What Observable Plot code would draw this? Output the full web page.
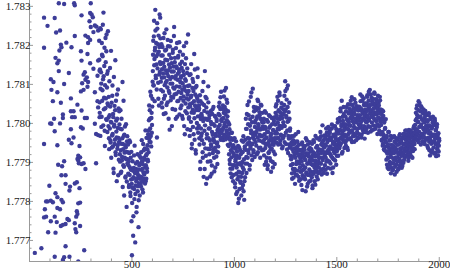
<!DOCTYPE html>
<html><head><meta charset="utf-8">
<script src="https://cdn.jsdelivr.net/npm/d3@7"></script>
<script src="https://cdn.jsdelivr.net/npm/@observablehq/plot@0.6"></script>
<style>body{margin:0;background:#fff}</style>
</head><body><div id="chart"></div>
<script>
// Early, widely scattered points (x, y read individually)
const earlyX = [143,169,218,221,299,296,303,309,254,71,123,88,293,319,327,299,130,149,221,273,286,296,312,335,180,153,156,71,146,205,286,283,296,251,127,143,136,254,335,312,342,270,192,143,280,264,273,286,104,117,169,257,332,283,107,136,202,251,264,319,332,114,153,234,254,335,202,215,208,163,163,120,101,107,149,221,270,280,319,342,202,251,260,123,325,335,215,192,205,244,71,136,238,247,234,238,241,254,264,273,325,169,140,159,97,176,156,221,231,176,198,195,244,127,136,156,81,88,104,114,163,238,247,75,136,149,81,71,231,234,228,104,133,123,185,192,163,153,176,221,247,224,228,91,127,26,58,176,267,169,163,123,195,238];
const earlyY = [1.78308,1.78306,1.78308,1.78303,1.78308,1.78283,1.78279,1.78272,1.78277,1.78271,1.78270,1.78250,1.78262,1.78251,1.78248,1.78247,1.78233,1.78238,1.78224,1.78225,1.78221,1.78214,1.78234,1.78238,1.78207,1.78202,1.78195,1.78194,1.78187,1.78195,1.78206,1.78178,1.78154,1.78185,1.78168,1.78161,1.78154,1.78161,1.78161,1.78140,1.78135,1.78131,1.78129,1.78134,1.78118,1.78125,1.78112,1.78106,1.78113,1.78106,1.78101,1.78103,1.78122,1.78094,1.78086,1.78080,1.78064,1.78082,1.78086,1.78080,1.78057,1.78057,1.78053,1.78048,1.78033,1.78041,1.78031,1.78031,1.78016,1.78023,1.78014,1.78012,1.78000,1.77999,1.78000,1.78016,1.78014,1.78014,1.77999,1.78016,1.77985,1.77990,1.77987,1.77980,1.77973,1.77970,1.77964,1.77958,1.77949,1.77942,1.77947,1.77944,1.77917,1.77913,1.77909,1.77905,1.77898,1.77896,1.77898,1.77883,1.77898,1.77903,1.77894,1.77890,1.77840,1.77867,1.77867,1.77846,1.77849,1.77845,1.77838,1.77828,1.77834,1.77821,1.77811,1.77804,1.77800,1.77800,1.77802,1.77798,1.77798,1.77795,1.77797,1.77780,1.77783,1.77780,1.77761,1.77759,1.77775,1.77768,1.77761,1.77749,1.77747,1.77761,1.77755,1.77752,1.77740,1.77737,1.77742,1.77744,1.77737,1.77729,1.77721,1.77721,1.77720,1.77668,1.77680,1.77685,1.77675,1.77657,1.77650,1.77658,1.77658,1.77646];

// Dense series, even indices, one array per block of 100
const y340 = [1.78212,1.78054,1.78138,1.77968,1.78241,1.78102,1.78017,1.78176,1.78085,1.78253,1.77995,1.78121,1.78066,1.78194,1.77942,1.78039,1.78157,1.78011,1.78228,1.78092,1.77978,1.78134,1.78046,1.78015,1.77962,1.78108,1.77987,1.78043,1.77951,1.78186,1.78002,1.77938,1.78071,1.77973,1.78024,1.77884,1.78119,1.77996,1.77947,1.78034,1.77926,1.78058,1.77979,1.77852,1.78012,1.77944,1.78087,1.77963,1.77907,1.78031];
const y440 = [1.77958,1.77902,1.78034,1.77931,1.77876,1.77985,1.77914,1.78106,1.77947,1.77893,1.77968,1.77815,1.77925,1.77992,1.77861,1.77939,1.77908,1.77786,1.77954,1.77897,1.77926,1.77871,1.77903,1.77842,1.77956,1.77887,1.77823,1.77912,1.77856,1.77749,1.77662,1.77835,1.77879,1.77712,1.77862,1.77918,1.77806,1.77874,1.77695,1.77841,1.77883,1.77772,1.77859,1.77901,1.77826,1.77868,1.77734,1.77847,1.77892,1.77815];
const y540 = [1.77864,1.77912,1.77838,1.77881,1.77957,1.77852,1.77896,1.77823,1.77874,1.77931,1.77869,1.77907,1.77846,1.77982,1.77893,1.77858,1.77921,1.77876,1.77944,1.77903,1.77962,1.77982,1.78046,1.77953,1.78012,1.78081,1.77968,1.77941,1.78027,1.77996,1.78063,1.78134,1.78212,1.78097,1.78263,1.78165,1.78187,1.78291,1.78122,1.78206,1.78151,1.77964,1.78243,1.78178,1.78104,1.78225,1.78046,1.78196,1.78132,1.78271];
const y640 = [1.78152,1.78086,1.78203,1.78117,1.78041,1.78174,1.78128,1.78219,1.78063,1.78145,1.78098,1.78187,1.78026,1.78136,1.78241,1.78109,1.78162,1.78054,1.78198,1.78121,1.78083,1.78176,1.77984,1.78143,1.78102,1.78211,1.78068,1.78154,1.78119,1.78037,1.78189,1.78092,1.78133,1.78247,1.78074,1.78168,1.78115,1.78012,1.78146,1.78095,1.78206,1.78057,1.78127,1.78173,1.78081,1.78138,1.78023,1.78184,1.78106,1.78065];
const y740 = [1.78121,1.78046,1.78158,1.78087,1.78012,1.78134,1.78069,1.78198,1.78095,1.77972,1.78113,1.78051,1.78167,1.78082,1.78026,1.78141,1.78074,1.78228,1.78061,1.78012,1.78097,1.77968,1.78043,1.78126,1.78004,1.78071,1.77936,1.78052,1.78114,1.77991,1.78083,1.78027,1.78178,1.77958,1.78046,1.78092,1.77923,1.78034,1.78069,1.77987,1.78141,1.78018,1.78056,1.77994,1.78038,1.77946,1.78072,1.77902,1.78011,1.77968];
const y840 = [1.78021,1.77957,1.78083,1.77912,1.78006,1.77863,1.78047,1.77981,1.78134,1.77936,1.78012,1.77845,1.78064,1.77972,1.78028,1.77902,1.78095,1.77962,1.78013,1.77921,1.77987,1.77864,1.78031,1.77946,1.77998,1.77892,1.78024,1.77971,1.77933,1.78042,1.77956,1.77877,1.77994,1.77938,1.78017,1.77968,1.77915,1.78006,1.77951,1.77983,1.77926,1.77991,1.78043,1.77968,1.78021,1.77982,1.78067,1.77963,1.78009,1.77975];
const y940 = [1.78012,1.77964,1.78046,1.77988,1.78027,1.77971,1.78084,1.78002,1.77959,1.78035,1.77992,1.78061,1.77976,1.78018,1.77945,1.78003,1.77968,1.77921,1.77985,1.77896,1.77947,1.77872,1.77962,1.77913,1.77976,1.77884,1.77938,1.77852,1.77923,1.77961,1.77893,1.77937,1.77836,1.77908,1.77954,1.77871,1.77917,1.77825,1.77896,1.77942,1.77863,1.77807,1.77912,1.77874,1.77932,1.77848,1.77894,1.77815,1.77956,1.77873];
const y1040 = [1.77926,1.77842,1.77967,1.77881,1.77804,1.77935,1.77862,1.77958,1.78012,1.77914,1.77986,1.77897,1.78047,1.77963,1.77931,1.78021,1.77952,1.77882,1.77994,1.77942,1.78068,1.77975,1.77918,1.78003,1.77947,1.78089,1.77969,1.77926,1.78031,1.77958,1.77991,1.78006,1.77952,1.78041,1.77978,1.77921,1.78018,1.77964,1.78057,1.77993,1.77937,1.78029,1.77971,1.77912,1.78012,1.77986,1.78046,1.77954,1.78003,1.77968];
const y1140 = [1.77986,1.77932,1.78012,1.77958,1.77894,1.77991,1.77947,1.78027,1.77963,1.77912,1.77978,1.77883,1.78004,1.77951,1.77926,1.77989,1.77942,1.78018,1.77968,1.77904,1.77973,1.77936,1.77998,1.77957,1.77887,1.77982,1.77945,1.78015,1.77962,1.77921,1.77997,1.78043,1.77962,1.78021,1.77974,1.78068,1.78002,1.77946,1.78034,1.77985,1.78079,1.78011,1.77956,1.78027,1.77993,1.78052,1.77968,1.78014,1.77941,1.78036];
const y1240 = [1.78024,1.77968,1.78071,1.77993,1.78108,1.78036,1.77947,1.78015,1.78089,1.77982,1.78042,1.77924,1.78006,1.77961,1.78053,1.77938,1.77987,1.77942,1.77893,1.77967,1.77911,1.77858,1.77946,1.77883,1.77927,1.77968,1.77874,1.77936,1.77845,1.77912,1.77953,1.77896,1.77928,1.77867,1.77941,1.77902,1.77978,1.77918,1.77853,1.77931,1.77887,1.77904,1.77857,1.77932,1.77878,1.77946,1.77829,1.77893,1.77915,1.77862];
const y1340 = [1.77911,1.77863,1.77942,1.77887,1.77826,1.77918,1.77874,1.77956,1.77897,1.77845,1.77923,1.77868,1.77934,1.77882,1.77952,1.77907,1.77853,1.77896,1.77934,1.77862,1.77918,1.77841,1.77905,1.77957,1.77876,1.77923,1.77852,1.77896,1.77968,1.77883,1.77917,1.77864,1.77942,1.77891,1.77928,1.77873,1.77934,1.77886,1.77962,1.77913,1.77978,1.77897,1.77946,1.77869,1.77931,1.77995,1.77912,1.77957,1.77884,1.77938];
const y1440 = [1.77946,1.77893,1.77968,1.77912,1.77987,1.77924,1.77871,1.77952,1.77905,1.77991,1.77934,1.77958,1.77902,1.77976,1.77921,1.77884,1.77963,1.77935,1.77997,1.77912,1.77954,1.77887,1.77971,1.77928,1.77992,1.77946,1.77905,1.77968,1.77931,1.77985,1.77917,1.77956,1.78002,1.77938,1.77974,1.77982,1.77936,1.78014,1.77961,1.78031,1.77948,1.77993,1.78058,1.77972,1.77927,1.78006,1.77965,1.78024,1.77953,1.77988];
const y1540 = [1.77971,1.78018,1.77943,1.77996,1.78042,1.77958,1.78007,1.77932,1.77984,1.78026,1.77996,1.78037,1.77962,1.78014,1.78058,1.77981,1.78023,1.77952,1.78006,1.78047,1.77974,1.78029,1.77991,1.78062,1.77968,1.78012,1.78035,1.77957,1.78003,1.78044,1.77986,1.78021,1.77963,1.78008,1.78016,1.77972,1.78041,1.77993,1.78057,1.78004,1.77964,1.78032,1.78069,1.77986,1.78025,1.77978,1.78047,1.78009,1.77961,1.78036];
const y1640 = [1.78026,1.77984,1.78051,1.78003,1.78068,1.78014,1.77976,1.78039,1.78081,1.78008,1.78047,1.77991,1.78032,1.78074,1.78017,1.77982,1.78056,1.78021,1.78063,1.77995,1.78038,1.78012,1.78076,1.78024,1.77986,1.78049,1.78006,1.78061,1.78028,1.77973,1.78042,1.78015,1.78053,1.77992,1.78031,1.78068,1.78004,1.78036,1.77996,1.78024,1.77958,1.78012,1.77943,1.78031,1.77971,1.77934,1.78005,1.77962,1.77988,1.77941];
const y1740 = [1.77952,1.77907,1.77968,1.77923,1.77886,1.77946,1.77912,1.77978,1.77931,1.77894,1.77957,1.77915,1.77872,1.77936,1.77898,1.77963,1.77924,1.77881,1.77942,1.77908,1.77967,1.77926,1.77889,1.77951,1.77913,1.77934,1.77876,1.77945,1.77902,1.77961,1.77922,1.77884,1.77947,1.77909,1.77972,1.77928,1.77895,1.77956,1.77917,1.77938,1.77891,1.77964,1.77925,1.77973,1.77906,1.77948,1.77912,1.77981,1.77934,1.77957];
const y1840 = [1.77946,1.77918,1.77972,1.77935,1.77961,1.77912,1.77983,1.77944,1.77926,1.77968,1.77937,1.77954,1.77915,1.77976,1.77942,1.77963,1.77929,1.77988,1.77951,1.77972,1.77934,1.77996,1.77986,1.78027,1.77958,1.78012,1.78046,1.77974,1.78003,1.77952,1.78034,1.77991,1.78052,1.77968,1.78018,1.77946,1.77997,1.78041,1.77972,1.78009,1.77963,1.78026,1.77984,1.77951,1.78013,1.77976,1.78032,1.77958,1.77994,1.78007];
const y1940 = [1.77986,1.77942,1.78008,1.77963,1.78021,1.77974,1.77931,1.77995,1.77958,1.78014,1.77967,1.77926,1.77989,1.77952,1.78003,1.77971,1.77938,1.77996,1.77954,1.78012,1.77962,1.77925,1.77984,1.77946,1.77991,1.77937,1.77968,1.77918,1.77975,1.77943,1.77956];

// Dense series, odd indices
const z341 = [1.78163,1.78027,1.78244,1.78089,1.78131,1.77991,1.78206,1.78058,1.78172,1.78113,1.78284,1.78036,1.78147,1.77981,1.78098,1.78219,1.78064,1.78185,1.78009,1.78127,1.78051,1.78236,1.77993,1.78068,1.77934,1.78021,1.78142,1.77956,1.78004,1.77912,1.78053,1.77969,1.78097,1.77941,1.78016,1.77873,1.77992,1.78045,1.77958,1.78162,1.77919,1.78007,1.77964,1.78074,1.77935,1.77988,1.77867,1.78038,1.77952,1.77997];
const z441 = [1.77921,1.77986,1.77873,1.77948,1.78012,1.77905,1.77962,1.77837,1.77934,1.78058,1.77889,1.77971,1.77912,1.77944,1.77864,1.77998,1.77927,1.77851,1.77967,1.77908,1.77946,1.77893,1.77837,1.77924,1.77868,1.77952,1.77814,1.77881,1.77927,1.77845,1.77796,1.77903,1.77858,1.77762,1.77886,1.77832,1.77943,1.77873,1.77819,1.77897,1.77852,1.77786,1.77874,1.77921,1.77839,1.77881,1.77803,1.77862,1.77917,1.77858];
const z541 = [1.77897,1.77845,1.77926,1.77862,1.77903,1.77831,1.77884,1.77947,1.77858,1.77912,1.77873,1.77936,1.77889,1.77852,1.77918,1.77963,1.77885,1.77934,1.77907,1.77972,1.77926,1.78008,1.77962,1.78034,1.77987,1.77952,1.78071,1.78014,1.77976,1.78043,1.78107,1.78176,1.78098,1.78223,1.78149,1.78057,1.78194,1.78238,1.78116,1.78172,1.78087,1.78257,1.78141,1.78203,1.78063,1.78184,1.78125,1.78279,1.78157,1.78218];
const z641 = [1.78107,1.78174,1.78053,1.78139,1.78196,1.78082,1.78155,1.78024,1.78118,1.78231,1.78071,1.78163,1.78104,1.78189,1.78047,1.78128,1.78092,1.78214,1.78136,1.78012,1.78151,1.78078,1.78197,1.78114,1.78059,1.78167,1.78133,1.77993,1.78102,1.78181,1.78066,1.78146,1.78224,1.78089,1.78157,1.78035,1.78121,1.78193,1.78076,1.78142,1.78017,1.78112,1.78169,1.78058,1.78131,1.78208,1.78094,1.78152,1.78039,1.78117];
const z741 = [1.78078,1.78142,1.78019,1.78103,1.78176,1.78058,1.78124,1.77993,1.78086,1.78152,1.78031,1.78109,1.78207,1.78064,1.78129,1.77985,1.78096,1.78041,1.78083,1.78016,1.78124,1.78049,1.77983,1.78067,1.78152,1.78028,1.77947,1.78091,1.78035,1.78106,1.77972,1.78057,1.78013,1.78138,1.78074,1.77931,1.78042,1.78096,1.78001,1.78063,1.78119,1.77976,1.78034,1.78046,1.77962,1.78018,1.77883,1.78057,1.77987,1.78024];
const z841 = [1.77974,1.78051,1.77926,1.78013,1.78106,1.77948,1.78032,1.77883,1.77995,1.78068,1.77917,1.78041,1.77962,1.77859,1.78009,1.77935,1.78054,1.77987,1.77934,1.78021,1.77956,1.77903,1.78004,1.77942,1.77871,1.77978,1.78036,1.77924,1.77961,1.77998,1.77912,1.77952,1.78019,1.77887,1.77973,1.77929,1.78011,1.77948,1.77896,1.77982,1.77941,1.78024,1.77977,1.78053,1.77996,1.78037,1.77958,1.78081,1.78006,1.77984];
const z941 = [1.77983,1.78037,1.77957,1.78014,1.78069,1.77996,1.78042,1.77967,1.78024,1.78091,1.77981,1.78008,1.78053,1.77962,1.78031,1.77974,1.77942,1.77997,1.77906,1.77958,1.77884,1.77931,1.77976,1.77862,1.77927,1.77958,1.77893,1.77944,1.77868,1.77917,1.77962,1.77846,1.77903,1.77935,1.77819,1.77887,1.77928,1.77857,1.77913,1.77796,1.77876,1.77939,1.77832,1.77898,1.77851,1.77921,1.77863,1.77927,1.77834,1.77901];
const z1041 = [1.77887,1.77953,1.77826,1.77908,1.77852,1.77941,1.77897,1.77932,1.77986,1.77873,1.78024,1.77947,1.77912,1.77998,1.77924,1.78056,1.77961,1.77893,1.78011,1.77937,1.77982,1.78079,1.77948,1.77906,1.78017,1.77963,1.77931,1.78042,1.77976,1.77914,1.78002,1.77971,1.78034,1.77943,1.78012,1.77987,1.78061,1.77926,1.77998,1.78039,1.77956,1.78021,1.77984,1.77938,1.78048,1.77967,1.78009,1.77931,1.78027,1.77992];
const z1141 = [1.77951,1.78003,1.77918,1.77972,1.78031,1.77937,1.77986,1.77902,1.77964,1.78009,1.77946,1.77893,1.77978,1.77924,1.78021,1.77957,1.77911,1.77993,1.77934,1.77876,1.77962,1.78014,1.77947,1.77901,1.77983,1.77928,1.78006,1.77953,1.77896,1.77974,1.78027,1.77978,1.78049,1.77951,1.78012,1.77986,1.78058,1.77963,1.78031,1.77994,1.78072,1.77947,1.78018,1.77971,1.78041,1.77989,1.77936,1.78024,1.77962,1.78003];
const z1241 = [1.77994,1.78047,1.77952,1.78031,1.78083,1.77976,1.78019,1.78061,1.77933,1.78004,1.78097,1.77968,1.78029,1.77946,1.78012,1.77981,1.77917,1.77963,1.77908,1.77951,1.77872,1.77934,1.77896,1.77957,1.77861,1.77917,1.77948,1.77883,1.77924,1.77972,1.77868,1.77937,1.77902,1.77954,1.77879,1.77921,1.77863,1.77946,1.77897,1.77932,1.77912,1.77876,1.77921,1.77842,1.77903,1.77951,1.77867,1.77924,1.77881,1.77938];
const z1341 = [1.77884,1.77932,1.77857,1.77906,1.77962,1.77871,1.77923,1.77838,1.77897,1.77946,1.77868,1.77915,1.77851,1.77903,1.77937,1.77876,1.77928,1.77867,1.77912,1.77948,1.77834,1.77893,1.77926,1.77871,1.77952,1.77887,1.77916,1.77843,1.77905,1.77938,1.77876,1.77962,1.77898,1.77857,1.77921,1.77902,1.77911,1.77958,1.77876,1.77932,1.77897,1.77967,1.77924,1.77882,1.77951,1.77906,1.77943,1.77873,1.77926,1.77969];
const z1441 = [1.77917,1.77962,1.77881,1.77943,1.77902,1.77976,1.77928,1.77957,1.77886,1.77932,1.77968,1.77924,1.77982,1.77941,1.77897,1.77958,1.77916,1.77987,1.77936,1.77873,1.77948,1.77967,1.77908,1.77952,1.77924,1.77993,1.77938,1.77961,1.77894,1.77977,1.77929,1.77946,1.78011,1.77917,1.77959,1.77951,1.78006,1.77942,1.77983,1.78038,1.77964,1.77997,1.77923,1.77976,1.78017,1.77956,1.78042,1.77983,1.77937,1.77998];
const z1541 = [1.77994,1.77952,1.78031,1.77967,1.78011,1.77938,1.77986,1.78049,1.77973,1.78004,1.78026,1.77977,1.78048,1.77994,1.77958,1.78031,1.78067,1.77982,1.78016,1.77967,1.78039,1.78001,1.77953,1.78024,1.77988,1.78053,1.77971,1.78009,1.78042,1.77978,1.78015,1.77962,1.78033,1.77997,1.78043,1.77989,1.78021,1.78074,1.77996,1.78037,1.77971,1.78012,1.78058,1.77983,1.78029,1.78064,1.77993,1.78017,1.78051,1.77978];
const z1641 = [1.78004,1.78047,1.77987,1.78032,1.78072,1.78019,1.77993,1.78058,1.78011,1.78043,1.78086,1.78026,1.77979,1.78034,1.78065,1.78002,1.78048,1.78017,1.77984,1.78052,1.78029,1.78079,1.78009,1.78041,1.77991,1.78062,1.78023,1.78054,1.77997,1.78037,1.78071,1.78014,1.78046,1.77981,1.78026,1.78059,1.78008,1.77972,1.78013,1.77956,1.78034,1.77978,1.77947,1.78019,1.77964,1.78002,1.77931,1.77986,1.77953,1.78011];
const z1741 = [1.77928,1.77963,1.77894,1.77941,1.77912,1.77978,1.77883,1.77937,1.77956,1.77901,1.77924,1.77968,1.77887,1.77945,1.77913,1.77879,1.77932,1.77966,1.77898,1.77924,1.77953,1.77869,1.77937,1.77906,1.77962,1.77894,1.77928,1.77957,1.77913,1.77882,1.77946,1.77921,1.77968,1.77891,1.77935,1.77903,1.77954,1.77927,1.77886,1.77962,1.77918,1.77947,1.77899,1.77936,1.77971,1.77928,1.77962,1.77917,1.77944,1.77982];
const z1841 = [1.77931,1.77967,1.77924,1.77952,1.77904,1.77977,1.77939,1.77961,1.77921,1.77948,1.77982,1.77928,1.77966,1.77943,1.77912,1.77971,1.77936,1.77958,1.77993,1.77947,1.77978,1.77962,1.78008,1.77967,1.78038,1.77984,1.78021,1.77957,1.78004,1.78057,1.77979,1.78016,1.77962,1.78031,1.77992,1.78044,1.77973,1.78011,1.77954,1.78027,1.77988,1.78036,1.77966,1.78003,1.77947,1.78019,1.77981,1.78024,1.77959,1.77993];
const z1941 = [1.77962,1.78004,1.77937,1.77981,1.78026,1.77953,1.77992,1.77918,1.77976,1.78011,1.77948,1.77987,1.77931,1.77968,1.78017,1.77954,1.77996,1.77923,1.77971,1.78006,1.77947,1.77982,1.77916,1.77962,1.77998,1.77934,1.77973,1.77951,1.77928,1.77961];

const evenStarts = [340,440,540,640,740,840,940,1040,1140,1240,1340,1440,1540,1640,1740,1840,1940];
const evenBlocks = [y340,y440,y540,y640,y740,y840,y940,y1040,y1140,y1240,y1340,y1440,y1540,y1640,y1740,y1840,y1940];
const oddStarts = [341,441,541,641,741,841,941,1041,1141,1241,1341,1441,1541,1641,1741,1841,1941];
const oddBlocks = [z341,z441,z541,z641,z741,z841,z941,z1041,z1141,z1241,z1341,z1441,z1541,z1641,z1741,z1841,z1941];

const xTicks = [500,1000,1500,2000];
const xMinorTicks = [100,200,300,400,600,700,800,900,1100,1200,1300,1400,1600,1700,1800,1900];
const yTicks = [1.777,1.778,1.779,1.780,1.781,1.782,1.783];
const yTickLabels = ["1.777","1.778","1.779","1.780","1.781","1.782","1.783"];
const yMinorTicks = [1.7768,1.7772,1.7774,1.7776,1.7778,1.7782,1.7784,1.7786,1.7788,1.7792,1.7794,1.7796,1.7798,1.7802,1.7804,1.7806,1.7808,1.7812,1.7814,1.7816,1.7818,1.7822,1.7824,1.7826,1.7828];

const points = earlyX.map((x, i) => ({x, y: earlyY[i]}));
evenBlocks.forEach((arr, b) => arr.forEach((y, i) => points.push({x: evenStarts[b] + 2 * i, y})));
oddBlocks.forEach((arr, b) => arr.forEach((y, i) => points.push({x: oddStarts[b] + 2 * i, y})));
points.sort((a, b) => a.x - b.x);

const yMin = 1.77646, yMax = 1.78315;
const axisColor = "#9a9a9a";

const chart = Plot.plot({
  width: 450, height: 278,
  marginLeft: 29, marginRight: 1, marginTop: 0, marginBottom: 17,
  x: {domain: [0, 2050]},
  y: {domain: [yMin, yMax]},
  style: {fontFamily: "'Liberation Serif', 'DejaVu Serif', serif", fontSize: "11px", color: "#222", background: "#fff"},
  marks: [
    Plot.ruleX([0], {stroke: axisColor}),
    Plot.ruleY([yMin], {stroke: axisColor}),
    Plot.axisX(xTicks, {tickSize: -4, tickPadding: 3, stroke: axisColor, fill: "#222", tickFormat: d => String(d), label: null}),
    Plot.axisX(xMinorTicks, {tickSize: -2.5, text: null, stroke: axisColor, label: null}),
    Plot.axisY(yTicks, {tickSize: -4, tickPadding: 3, stroke: axisColor, fill: "#222", tickFormat: d => yTickLabels[yTicks.indexOf(d)], label: null}),
    Plot.axisY(yMinorTicks, {tickSize: -2.5, text: null, stroke: axisColor, label: null}),
    Plot.dot(points, {x: "x", y: "y", r: 2.2, fill: "#3d3d99", stroke: "none", clip: true})
  ]
});
document.getElementById("chart").appendChild(chart);
</script>
</body></html>
